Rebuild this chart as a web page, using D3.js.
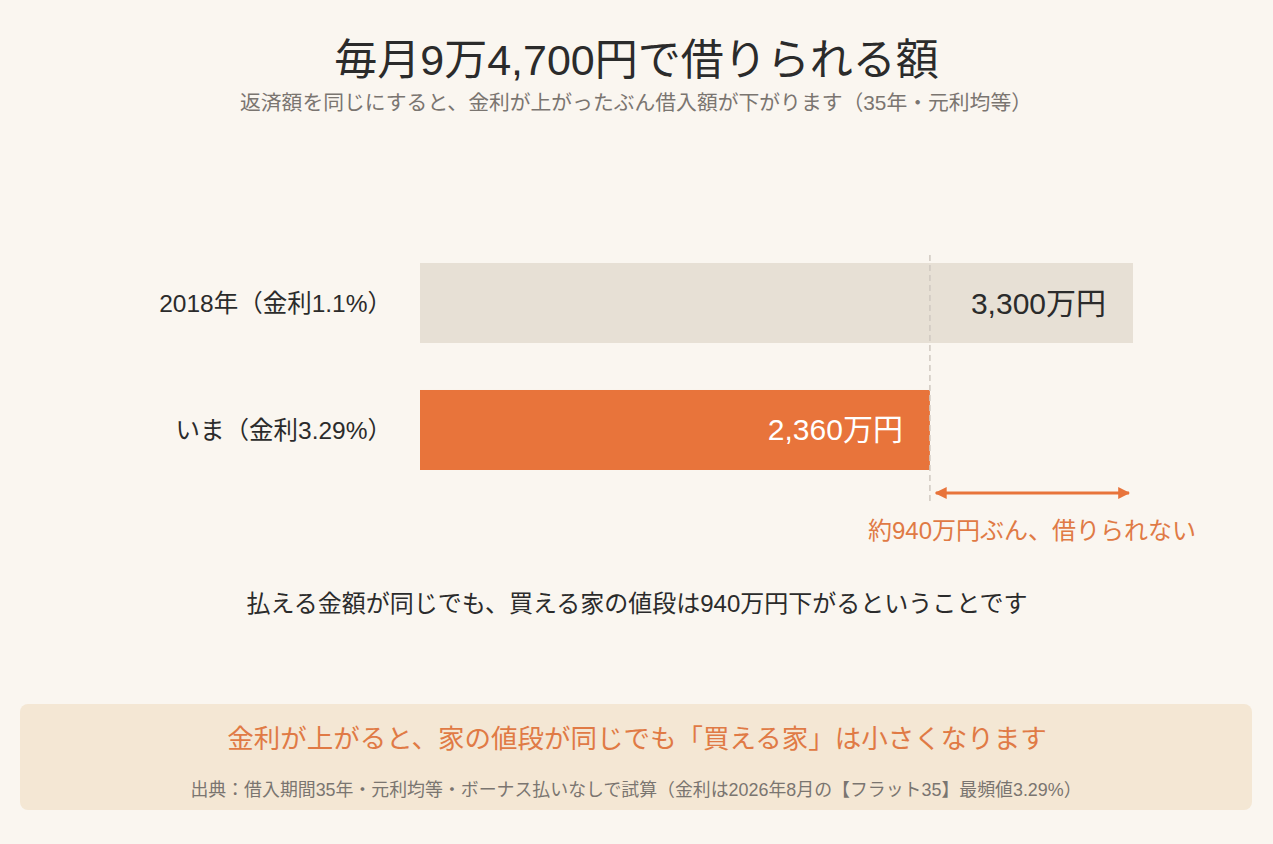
<!DOCTYPE html>
<html><head><meta charset="utf-8">
<script src="https://cdn.jsdelivr.net/npm/d3@7"></script>
<style>
html,body{margin:0;padding:0;background:#faf6f0;}
svg{display:block;font-family:"Liberation Sans","Noto Sans CJK JP",sans-serif;}
</style></head><body>
<svg id="c" width="1273" height="844"></svg>
<script>
const categories = ["2018年（金利1.1%）", "いま（金利3.29%）"];
const values = [3300, 2360];
const valueLabels = ["3,300万円", "2,360万円"];
const gapLabel = "約940万円ぶん、借りられない";
const title = "毎月9万4,700円で借りられる額";
const subtitle = "返済額を同じにすると、金利が上がったぶん借入額が下がります（35年・元利均等）";
const note = "払える金額が同じでも、買える家の値段は940万円下がるということです";
const boxTitle = "金利が上がると、家の値段が同じでも「買える家」は小さくなります";
const source = "出典：借入期間35年・元利均等・ボーナス払いなしで試算（金利は2026年8月の【フラット35】最頻値3.29%）";

const svg = d3.select("#c");
const W = 1273;
svg.append("rect").attr("width",W).attr("height",844).attr("fill","#faf6f0");

svg.append("text").attr("x",W/2).attr("y",75).attr("text-anchor","middle")
  .attr("font-size",43).attr("fill","#2b2b2b").text(title);
svg.append("text").attr("x",636).attr("y",110).attr("text-anchor","middle")
  .attr("font-size",20.8).attr("fill","#7a7570").text(subtitle);

const x = d3.scaleLinear().domain([0,3300]).range([420,1133]);
const y = d3.scaleBand().domain(categories).range([263,470]).paddingInner(0.37);

const colors = ["#e7e0d5","#e8743b"];
const textColors = ["#2b2b2b","#ffffff"];

svg.selectAll("rect.bar").data(values).join("rect").attr("class","bar")
  .attr("x",x(0)).attr("y",(d,i)=>y(categories[i]))
  .attr("width",d=>x(d)-x(0)).attr("height",y.bandwidth())
  .attr("fill",(d,i)=>colors[i]);

svg.selectAll("text.cat").data(categories).join("text").attr("class","cat")
  .attr("x",392).attr("y",d=>y(d)+y.bandwidth()/2).attr("dy","0.35em")
  .attr("text-anchor","end").attr("font-size",24.5).attr("fill","#2b2b2b").text(d=>d);

svg.selectAll("text.val").data(values).join("text").attr("class","val")
  .attr("x",d=>x(d)-27).attr("y",(d,i)=>y(categories[i])+y.bandwidth()/2).attr("dy","0.35em")
  .attr("text-anchor","end").attr("font-size",30).attr("fill",(d,i)=>textColors[i])
  .text((d,i)=>valueLabels[i]);

// dashed reference line at current value
const xr = x(values[1]);
svg.append("line").attr("x1",xr).attr("x2",xr).attr("y1",255).attr("y2",505)
  .attr("stroke","#cfc8c0").attr("stroke-width",1.5).attr("stroke-dasharray","6,4");

// double arrow
const defs = svg.append("defs");
defs.append("marker").attr("id","ah").attr("viewBox","0 0 10 10").attr("refX",9).attr("refY",5)
  .attr("markerWidth",4).attr("markerHeight",4).attr("orient","auto-start-reverse")
  .append("path").attr("d","M0,0L10,5L0,10z").attr("fill","#e8743b");
svg.append("line").attr("x1",xr+6).attr("x2",x(values[0])-4).attr("y1",493).attr("y2",493)
  .attr("stroke","#e8743b").attr("stroke-width",3)
  .attr("marker-start","url(#ah)").attr("marker-end","url(#ah)");
svg.append("text").attr("x",1032).attr("y",539).attr("text-anchor","middle")
  .attr("font-size",24).attr("fill","#e07a45").text(gapLabel);

svg.append("text").attr("x",637).attr("y",612).attr("text-anchor","middle")
  .attr("font-size",24).attr("fill","#2b2b2b").text(note);

svg.append("rect").attr("x",20).attr("y",704).attr("width",1232).attr("height",106)
  .attr("rx",8).attr("fill","#f4e7d4");
svg.append("text").attr("x",637).attr("y",748).attr("text-anchor","middle")
  .attr("font-size",26.5).attr("fill","#e07a45").text(boxTitle);
svg.append("text").attr("x",636).attr("y",796).attr("text-anchor","middle")
  .attr("font-size",17.9).attr("fill","#7a7570").text(source);
</script></body></html>
